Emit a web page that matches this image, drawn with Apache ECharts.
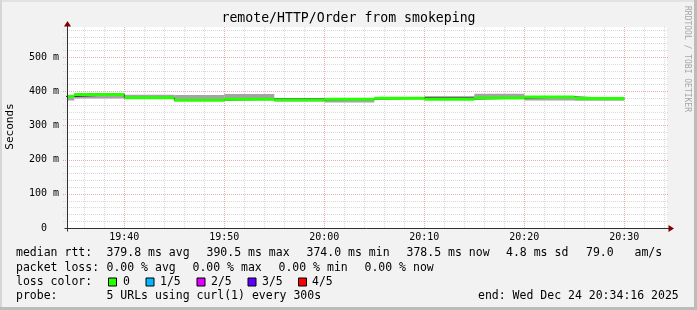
<!DOCTYPE html>
<html><head><meta charset="utf-8">
<script src="https://cdn.jsdelivr.net/npm/echarts@6/dist/echarts.min.js"></script>
<style>html,body{margin:0;padding:0;background:#f2f2f2}#c{width:697px;height:310px}</style>
</head><body><div id="c"></div>
<script>
// ---------- data ----------
const chartTitle = 'remote/HTTP/Order from smokeping';
const yAxisTitle = 'Seconds';
const watermark = 'RRDTOOL / TOBI OETIKER';
const day = [2025, 11, 24];
const viewStart = '19:34:16';
const viewEnd = '20:34:16';
const stepSeconds = 300;
const stepEnds = ['19:35','19:40','19:45','19:50','19:55','20:00','20:05','20:10','20:15','20:20','20:25','20:30'];
const medianMs    = [385, 390.5, 381, 374, 376.5, 374.5, 377, 379.5, 377, 380, 383.5, 378.5];
const smokeLowMs  = [373, 379, 378, 372, 374, 370, 367, 376, 375, 378, 373, 372];
const smokeHighMs = [390, 395, 390, 389, 392, 380, 379, 382, 385, 393, 386, 380];
const denseLowMs  = [null, null, null, null, null, 378, null, null, 380, null, null, null];
const denseHighMs = [null, null, null, null, null, 380.5, null, null, 384, null, null, null];
const yMaxMs = 588;
const yMajorTicks = [100, 200, 300, 400, 500];
const yMinorStep = 20;
const xTickLabels = ['19:40','19:50','20:00','20:10','20:20','20:30'];
const xMinorStepMin = 2;

const rttLabel = 'median rtt:';
const rttStats = ['379.8 ms avg', '390.5 ms max', '374.0 ms min', '378.5 ms now', '4.8 ms sd', '79.0   am/s'];
const lossLabel = 'packet loss:';
const lossStats = ['0.00 % avg', '0.00 % max', '0.00 % min', '0.00 % now'];
const lossColorLabel = 'loss color:';
const lossColorNames = ['0', '1/5', '2/5', '3/5', '4/5'];
const lossColors = ['#26ff00', '#00b8ff', '#dd00ff', '#5e00ff', '#ff0000'];
const probeLabel = 'probe:';
const probeText = '5 URLs using curl(1) every 300s';
const endText = 'end: Wed Dec 24 20:34:16 2025';

// ---------- layout / style ----------
const FONT = "'DejaVu Sans Mono', monospace";
const rttX = [106.5, 206.5, 306.5, 406.5, 506, 586];
const lossX = [106.5, 192.5, 278.5, 364.5];
const boxX = [108.5, 146, 197, 248, 298.5];
const boxLabelX = [123, 160, 211, 262, 312];
const rowY = [253.5, 267.8, 282, 296.2];
const colLabelX = 16;
const smokeColor = '#a4a4a4';
const denseColor = '#5a5a5a';
const minorGrid = '#d9d9d9';
const majorGrid = 'rgba(220,120,120,0.6)';

const T = s => { const p = s.split(':').map(Number); return new Date(day[0], day[1], day[2], p[0], p[1], p[2] || 0).getTime(); };
const xMin = T(viewStart), xMax = T(viewEnd);

const smokeData = stepEnds.map((e, i) => [T(e) - stepSeconds * 1000, T(e), smokeLowMs[i], smokeHighMs[i],
  denseLowMs[i] == null ? NaN : denseLowMs[i], denseHighMs[i] == null ? NaN : denseHighMs[i], medianMs[i]]);
const medianLine = [];
stepEnds.forEach((e, i) => { medianLine.push([T(e) - stepSeconds * 1000, medianMs[i]]); medianLine.push([T(e), medianMs[i]]); });

const xMajorT = xTickLabels.map(T);
const xMinorT = [];
for (let t = T('19:36'); t <= xMax; t += xMinorStepMin * 60000) if (!xMajorT.includes(t)) xMinorT.push(t);
const yMinor = [];
for (let v = yMinorStep; v <= yMaxMs; v += yMinorStep) if (v % 100 !== 0) yMinor.push(v);

const px = v => Math.round(v) + 0.5;

function renderGrid(params, api) {
  const o = api.coord([xMin, 0]), tr = api.coord([xMax, yMaxMs]);
  const ch = [];
  const hline = (v, c) => { const y = px(api.coord([xMin, v])[1]); ch.push({type: 'line', shape: {x1: o[0] - 4, y1: y, x2: tr[0] + 2, y2: y}, style: {stroke: c, lineWidth: 1, lineDash: [1, 1]}}); };
  const vline = (t, c) => { const x = px(api.coord([t, 0])[0]); ch.push({type: 'line', shape: {x1: x, y1: o[1], x2: x, y2: tr[1]}, style: {stroke: c, lineWidth: 1, lineDash: [1, 1]}}); };
  yMinor.forEach(v => hline(v, minorGrid));
  xMinorT.forEach(t => vline(t, minorGrid));
  yMajorTicks.forEach(v => hline(v, majorGrid));
  xMajorT.forEach(t => vline(t, majorGrid));
  return {type: 'group', children: ch};
}

function renderAxes(params, api) {
  const o = api.coord([xMin, 0]), tr = api.coord([xMax, yMaxMs]);
  const ax = px(o[0]), ay = px(o[1]);
  const ch = [
    {type: 'line', shape: {x1: ax, y1: ay + 3, x2: ax, y2: tr[1] - 2}, style: {stroke: '#303030', lineWidth: 1}},
    {type: 'line', shape: {x1: ax - 3, y1: ay, x2: tr[0] + 2, y2: ay}, style: {stroke: '#303030', lineWidth: 1}},
    {type: 'polygon', shape: {points: [[ax, tr[1] - 6], [ax - 3.5, tr[1] - 0.5], [ax + 3.5, tr[1] - 0.5]]}, style: {fill: '#7f0000'}},
    {type: 'polygon', shape: {points: [[tr[0] + 7, ay], [tr[0] + 1.5, ay - 3.5], [tr[0] + 1.5, ay + 3.5]]}, style: {fill: '#7f0000'}}
  ];
  xTickLabels.forEach((lab, i) => {
    const p = api.coord([xMajorT[i], 0]);
    ch.push({type: 'text', style: {text: lab, x: p[0], y: p[1] + 9.5, align: 'center', verticalAlign: 'middle', font: '10px ' + FONT, fill: '#000'}});
  });
  return {type: 'group', children: ch};
}

function renderSmoke(params, api) {
  const t0 = api.value(0), t1 = api.value(1);
  const a = api.coord([t0, api.value(3)]), b = api.coord([t1, api.value(2)]);
  const ch = [{type: 'rect', shape: {x: a[0], y: a[1], width: b[0] - a[0], height: b[1] - a[1]}, style: {fill: smokeColor}}];
  const dl = api.value(4), dh = api.value(5);
  if (!isNaN(dl) && !isNaN(dh)) {
    const c = api.coord([t0, dh]), d = api.coord([t1, dl]);
    ch.push({type: 'rect', shape: {x: c[0], y: c[1], width: d[0] - c[0], height: Math.max(1, d[1] - c[1])}, style: {fill: denseColor}});
  }
  return {type: 'group', children: ch};
}

function renderMedian(params, api) {
  const a = api.coord([api.value(0), api.value(6)]), b = api.coord([api.value(1), api.value(6)]);
  return {type: 'rect', shape: {x: a[0], y: a[1] - 1.5, width: b[0] - a[0], height: 3}, style: {fill: lossColors[0]}};
}

const graphics = [
  {type: 'rect', shape: {x: 0, y: 0, width: 697, height: 2}, style: {fill: '#e2e2e2'}},
  {type: 'rect', shape: {x: 0, y: 0, width: 2, height: 310}, style: {fill: '#d6d6d6'}},
  {type: 'rect', shape: {x: 694, y: 0, width: 3, height: 310}, style: {fill: '#bcbcbc'}},
  {type: 'rect', shape: {x: 0, y: 307, width: 697, height: 3}, style: {fill: '#bcbcbc'}},
  {type: 'text', rotation: Math.PI / 2, x: 10, y: 126.5, style: {text: yAxisTitle, align: 'center', verticalAlign: 'middle', font: '11px ' + FONT, fill: '#000'}},
  {type: 'text', rotation: -Math.PI / 2, x: 687.5, y: 59, style: {text: watermark, align: 'center', verticalAlign: 'middle', font: '8px ' + FONT, fill: '#a6a6a6'}}
];
const leg = (text, x, y) => graphics.push({type: 'text', style: {text, x, y, align: 'left', verticalAlign: 'middle', font: '11.5px ' + FONT, fill: '#000'}});
leg(rttLabel, colLabelX, rowY[0]);
rttStats.forEach((s, i) => leg(s, rttX[i], rowY[0]));
leg(lossLabel, colLabelX, rowY[1]);
lossStats.forEach((s, i) => leg(s, lossX[i], rowY[1]));
leg(lossColorLabel, colLabelX, rowY[2]);
lossColorNames.forEach((s, i) => {
  graphics.push({type: 'rect', shape: {x: boxX[i], y: rowY[2] - 4, width: 8, height: 8}, style: {fill: lossColors[i], stroke: '#000', lineWidth: 1}});
  leg(s, boxLabelX[i], rowY[2]);
});
leg(probeLabel, colLabelX, rowY[3]);
leg(probeText, rttX[0], rowY[3]);
leg(endText, 478, rowY[3]);

const chart = echarts.init(document.getElementById('c'), null, {renderer: 'canvas', width: 697, height: 310});
chart.setOption({
  animation: false,
  backgroundColor: '#f2f2f2',
  title: {text: chartTitle, left: 'center', top: 12, padding: 0,
    textStyle: {fontFamily: FONT, fontSize: 13.2, fontWeight: 'normal', color: '#000'}},
  grid: {left: 67, top: 27, width: 600, height: 201, show: true, backgroundColor: '#ffffff', borderWidth: 0},
  xAxis: {type: 'value', min: xMin, max: xMax, axisLine: {show: false}, axisTick: {show: false}, axisLabel: {show: false}, splitLine: {show: false}},
  yAxis: {type: 'value', min: 0, max: yMaxMs, interval: 100,
    axisLine: {show: false}, axisTick: {show: false}, splitLine: {show: false},
    axisLabel: {margin: 8, showMaxLabel: false, fontFamily: FONT, fontSize: 10, color: '#000',
      formatter: v => v === 0 ? '0  ' : v + ' m'}},
  graphic: graphics,
  series: [
    {type: 'custom', z: 1, clip: false, silent: true, data: [[xMin, 0]], renderItem: renderGrid},
    {type: 'custom', z: 2, clip: true, silent: true, data: smokeData, renderItem: renderSmoke},
    {type: 'line', z: 3, clip: true, silent: true, data: medianLine, showSymbol: false, lineStyle: {color: '#1e1e1e', width: 1}},
    {type: 'custom', z: 4, clip: true, silent: true, data: smokeData, renderItem: renderMedian},
    {type: 'custom', z: 5, clip: false, silent: true, data: [[xMin, 0]], renderItem: renderAxes}
  ]
});
</script></body></html>
